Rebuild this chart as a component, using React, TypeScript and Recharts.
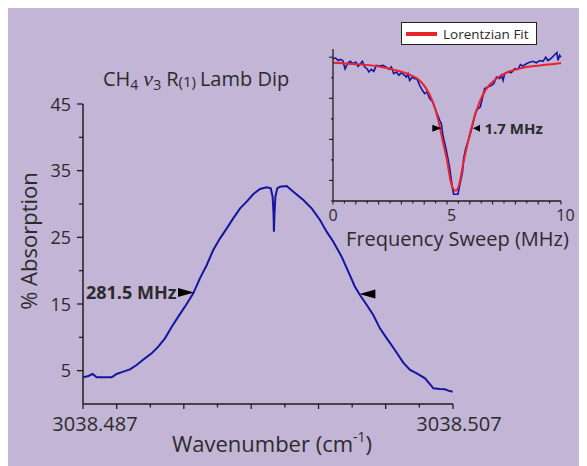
import { LineChart, Line, XAxis, YAxis, ReferenceDot, Legend } from "recharts";

// main trace
const wavenumber = [
  3038.48702, 3038.48729, 3038.48752, 3038.48774, 3038.48819, 3038.48855, 3038.48882, 3038.48918,
  3038.48954, 3038.4899, 3038.49035, 3038.49071, 3038.49107, 3038.49143, 3038.4918, 3038.49215,
  3038.49251, 3038.49296, 3038.49332, 3038.49369, 3038.49404, 3038.49441, 3038.49477, 3038.49512,
  3038.49549, 3038.49585, 3038.49621, 3038.49657, 3038.49693, 3038.49715, 3038.49725, 3038.4973,
  3038.49732, 3038.49735, 3038.4974, 3038.4975, 3038.49765, 3038.49801, 3038.49837, 3038.49891,
  3038.49936, 3038.49981, 3038.50017, 3038.50053, 3038.50098, 3038.50134, 3038.5017, 3038.50197,
  3038.50234, 3038.50269, 3038.50305, 3038.50342, 3038.50386, 3038.50431, 3038.50468, 3038.50504,
  3038.50549, 3038.50594, 3038.5063, 3038.50657, 3038.50675, 3038.50698,
];
const absorption = [
  4.0, 4.2, 4.5, 4.0, 4.0, 4.0, 4.5, 4.85, 5.2, 5.85, 6.85, 7.6, 8.6, 9.85, 11.6, 13.1, 14.6, 16.6,
  18.85, 20.85, 23.1, 24.85, 26.35, 27.85, 29.35, 30.35, 31.5, 32.25, 32.5, 32.35, 31.1, 28.5, 25.85,
  28.5, 31.1, 32.35, 32.6, 32.7, 31.85, 30.6, 29.35, 27.6, 25.85, 24.35, 22.1, 19.85, 17.6, 16.35,
  14.85, 13.35, 11.35, 9.85, 8.1, 6.2, 5.1, 4.6, 3.85, 2.35, 2.25, 2.2, 2.0, 1.85,
];

// inset: measured sweep
const sweepFreq = [
  0.0, 0.12, 0.22, 0.32, 0.43, 0.53, 0.66, 0.76, 0.88, 1.0, 1.1, 1.2, 1.29, 1.39, 1.49, 1.58, 1.68,
  1.79, 1.9, 2.05, 2.19, 2.34, 2.46, 2.56, 2.66, 2.78, 2.89, 3.0, 3.1, 3.22, 3.29, 3.36, 3.48, 3.58,
  3.68, 3.8, 3.92, 4.02, 4.12, 4.24, 4.36, 4.46, 4.56, 4.68, 4.75, 4.82, 4.97, 5.12, 5.24, 5.29,
  5.48, 5.56, 5.68, 5.73, 5.82, 5.92, 6.07, 6.17, 6.26, 6.36, 6.46, 6.58, 6.65, 6.8, 6.95, 7.05,
  7.17, 7.31, 7.39, 7.46, 7.53, 7.68, 7.82, 7.97, 8.11, 8.22, 8.33, 8.48, 8.63, 8.77, 8.92, 9.07,
  9.21, 9.33, 9.43, 9.58, 9.72, 9.82, 9.87, 9.94, 10.0,
];
const sweepSignal = [
  6.93, 6.96, 6.84, 6.89, 6.84, 6.43, 6.73, 6.8, 6.68, 6.76, 6.55, 6.68, 6.8, 6.52, 6.44, 6.28, 6.41,
  6.31, 6.6, 6.57, 6.6, 6.52, 6.41, 6.52, 6.2, 6.28, 6.12, 6.25, 6.15, 6.03, 6.2, 5.87, 6.03, 5.96,
  5.96, 5.63, 5.39, 5.23, 5.31, 4.99, 4.85, 4.58, 4.26, 3.93, 3.77, 3.2, 2.48, 1.6, 0.62, 0.33,
  0.33, 0.78, 1.42, 2.07, 2.56, 2.88, 3.45, 3.93, 4.33, 4.5, 4.58, 5.15, 5.47, 5.55, 5.63, 5.71,
  6.03, 5.96, 6.12, 5.87, 6.2, 6.28, 6.25, 6.44, 6.41, 6.64, 6.57, 6.68, 6.76, 6.8, 6.73, 6.84,
  6.8, 7.0, 6.84, 6.96, 7.12, 7.22, 6.84, 7.09, 7.0,
];

// inset: lorentzian fit
const fitFreq = [
  0, 0.88, 1.9, 2.78, 3.36, 3.8, 4.09, 4.38, 4.6, 4.82, 5.04, 5.12, 5.26, 5.38, 5.53, 5.7, 5.92,
  6.14, 6.43, 6.73, 7.17, 7.61, 8.33, 9.07, 9.94, 10,
];
const fitSignal = [
  6.73, 6.67, 6.57, 6.36, 6.15, 5.87, 5.47, 4.82, 4.01, 2.88, 1.75, 1.18, 0.62, 0.5, 0.78, 1.75,
  2.88, 3.85, 4.82, 5.47, 5.96, 6.25, 6.49, 6.6, 6.71, 6.72,
];

const mainYTicks = [5, 10, 15, 20, 25, 30, 35, 40, 45];
const mainXTicks = [
  3038.487, 3038.48882, 3038.49064, 3038.49245, 3038.49427, 3038.49609, 3038.49791, 3038.49973,
  3038.50155, 3038.50336, 3038.50518, 3038.507,
];
const mainXLabels = ["3038.487", "", "", "", "", "", "", "", "", "", "", "3038.507"];
const sweepXTicks = [0, 0.5, 1, 1.5, 2, 2.5, 3, 3.5, 4, 4.5, 5, 5.5, 6, 6.5, 7, 7.5, 8, 8.5, 9, 9.5, 10];
const sweepXLabels = ["0", "5", "10"];
const sweepYTicks = [0, 1, 2, 3, 4, 5, 6, 7];

const mainData = wavenumber.map((w, i) => ({ w, a: absorption[i] }));
const sweepData = sweepFreq.map((f, i) => ({ f, v: sweepSignal[i] }));
const fitData = fitFreq.map((f, i) => ({ f, v: fitSignal[i] }));

const FONT = "'Open Sans', 'Noto Sans', sans-serif";
const INK = "#2b2b2b";
const AXIS = "#1e1e1e";
const BLUE = "#1515a0";
const RED = "#e8232b";

const MainYTick = ({ x, y, payload }: any) => {
  const major = payload.value % 10 === 5;
  const ax = x + 12;
  return (
    <g>
      <line x1={ax - (major ? 6 : 4)} x2={ax} y1={y} y2={y} stroke={AXIS} strokeWidth={1.3} />
      {major && (
        <text x={x} y={y} dy={6.5} textAnchor="end" fontSize={18} fontFamily={FONT} fill={INK}>
          {payload.value}
        </text>
      )}
    </g>
  );
};

const MainXTick = ({ x, y, index }: any) => {
  const major = index % 2 === 1 || index === 0 || index === mainXTicks.length - 1;
  const label = mainXLabels[index];
  return (
    <g>
      <line x1={x} x2={x} y1={y} y2={y + (major ? 5 : 3.5)} stroke={AXIS} strokeWidth={1.3} />
      {label && (
        <text x={x + (index === 0 ? 12 : 6)} y={y + 27} textAnchor="middle" fontSize={20} fontFamily={FONT} fill={INK}>
          {label}
        </text>
      )}
    </g>
  );
};

const SweepXTick = ({ x, y, payload }: any) => {
  const v = payload.value;
  const whole = Number.isInteger(v);
  const label = sweepXLabels.find((l) => Number(l) === v);
  return (
    <g>
      <line x1={x} x2={x} y1={y} y2={y + (whole ? 3.5 : 2.5)} stroke={AXIS} strokeWidth={1.1} />
      {label && (
        <text x={x + (v === 0 ? 0 : 4.5)} y={y + 20} textAnchor="middle" fontSize={16} fontFamily={FONT} fill={INK}>
          {label}
        </text>
      )}
    </g>
  );
};

const SweepYTick = ({ x, y, payload }: any) => {
  const ax = x + 10;
  const len = payload.value % 2 === 1 ? 4 : 2;
  return <line x1={ax - len} x2={ax} y1={y} y2={y} stroke={AXIS} strokeWidth={1.1} />;
};

// little black arrowheads marking the widths
const arrowRight = (half: number, len: number, text?: string, size?: number) => (p: any) => (
  <g>
    <polygon points={`${p.cx},${p.cy} ${p.cx - len},${p.cy - half} ${p.cx - len},${p.cy + half}`} fill="#000" />
    {text && (
      <text x={p.cx - len - 1.5} y={p.cy + 6.5} textAnchor="end" fontSize={size} fontWeight="bold" fontFamily={FONT} fill={INK}>
        {text}
      </text>
    )}
  </g>
);
const arrowLeft = (half: number, len: number, text?: string, size?: number) => (p: any) => (
  <g>
    <polygon points={`${p.cx},${p.cy} ${p.cx + len},${p.cy - half} ${p.cx + len},${p.cy + half}`} fill="#000" />
    {text && (
      <text x={p.cx + len + 4.5} y={p.cy + 5.5} fontSize={size} fontWeight="bold" fontFamily={FONT} fill={INK}>
        {text}
      </text>
    )}
  </g>
);

const FitLegend = () => (
  <div
    style={{
      display: "flex",
      alignItems: "center",
      height: 21,
      width: 134,
      border: "1px solid #222",
      background: "#fff",
      fontFamily: FONT,
      fontSize: 13.5,
      color: INK,
      boxSizing: "content-box",
    }}
  >
    <span style={{ display: "inline-block", width: 31, height: 4, background: RED, margin: "0 6px 0 4px" }} />
    Lorentzian Fit
  </div>
);

export default function App() {
  return (
    <div style={{ position: "relative", width: 579, height: 458, background: "#c3b5d6", overflow: "hidden" }}>
      <style>{"html,body{overflow:hidden}"}</style>

      <div style={{ position: "absolute", left: 0, top: 0 }}>
        <LineChart width={579} height={458} data={mainData} margin={{ top: 96, right: 134, bottom: 0, left: 0 }}>
          <XAxis
            dataKey="w"
            type="number"
            domain={[3038.487, 3038.507]}
            ticks={mainXTicks}
            interval={0}
            height={62}
            tickSize={0}
            tickMargin={0}
            tickLine={false}
            tick={<MainXTick />}
            axisLine={{ stroke: AXIS, strokeWidth: 1.5 }}
          />
          <YAxis
            type="number"
            domain={[0, 45]}
            ticks={mainYTicks}
            interval={0}
            width={75}
            tickSize={0}
            tickMargin={12}
            tickLine={false}
            tick={<MainYTick />}
            axisLine={{ stroke: AXIS, strokeWidth: 1.5 }}
          />
          <Line dataKey="a" type="linear" stroke={BLUE} strokeWidth={2} dot={false} isAnimationActive={false} />
          <ReferenceDot x={3038.493} y={16.72} r={0} shape={arrowRight(4.5, 16, "281.5 MHz", 18)} />
          <ReferenceDot x={3038.50194} y={16.5} r={0} shape={arrowLeft(4.5, 16)} />
        </LineChart>
      </div>

      <div style={{ position: "absolute", left: 295, top: 10 }}>
        <LineChart width={280} height={250} margin={{ top: 31, right: 22, bottom: 0, left: 0 }}>
          <XAxis
            dataKey="f"
            type="number"
            domain={[0, 10]}
            ticks={sweepXTicks}
            interval={0}
            height={67}
            tickSize={0}
            tickMargin={0}
            tickLine={false}
            tick={<SweepXTick />}
            axisLine={{ stroke: AXIS, strokeWidth: 1.3 }}
          />
          <YAxis
            type="number"
            domain={[0, 7.4]}
            ticks={sweepYTicks}
            interval={0}
            width={30}
            tickSize={0}
            tickMargin={10}
            tickLine={false}
            tick={<SweepYTick />}
            axisLine={{ stroke: AXIS, strokeWidth: 1.3 }}
          />
          <Legend
            layout="horizontal"
            verticalAlign="middle"
            align="center"
            content={<FitLegend />}
            wrapperStyle={{ left: 98, top: 4, width: "auto", height: "auto" }}
          />
          <Line data={sweepData} dataKey="v" type="linear" stroke={BLUE} strokeWidth={1.6} dot={false} isAnimationActive={false} />
          <Line data={fitData} dataKey="v" type="monotone" stroke={RED} strokeWidth={2} dot={false} isAnimationActive={false} />
          <ReferenceDot x={4.75} y={3.54} r={0} shape={arrowRight(3.5, 9)} />
          <ReferenceDot x={6.14} y={3.54} r={0} shape={arrowLeft(3.5, 7, "1.7 MHz", 15)} />
        </LineChart>
      </div>

      <svg width={579} height={458} style={{ position: "absolute", left: 0, top: 0, pointerEvents: "none" }}>
        <text x={95} y={78} fontSize={20} fontFamily={FONT} fill={INK}>
          CH
          <tspan fontSize={14} dy={4}>4</tspan>
          <tspan dx={5} dy={-4} fontSize={22} fontStyle="italic" fontFamily="'Liberation Serif', serif">ν</tspan>
          <tspan fontSize={14} dy={4}>3</tspan>
          <tspan dx={5} dy={-4}>R</tspan>
          <tspan fontSize={15} dy={1}>(1)</tspan>
          <tspan dx={4} dy={-1}>Lamb Dip</tspan>
        </text>
        <text
          x={29}
          y={233}
          transform="rotate(-90 29 233)"
          textAnchor="middle"
          fontSize={22}
          fontFamily={FONT}
          fill={INK}
        >
          % Absorption
        </text>
        <text x={264} y={444} textAnchor="middle" fontSize={22} fontFamily={FONT} fill={INK}>
          Wavenumber (cm
          <tspan fontSize={14} dy={-10}>-1</tspan>
          <tspan dy={10}>)</tspan>
        </text>
        <text x={449.5} y={238} textAnchor="middle" fontSize={20} fontFamily={FONT} fill={INK}>
          Frequency Sweep (MHz)
        </text>
      </svg>
    </div>
  );
}
